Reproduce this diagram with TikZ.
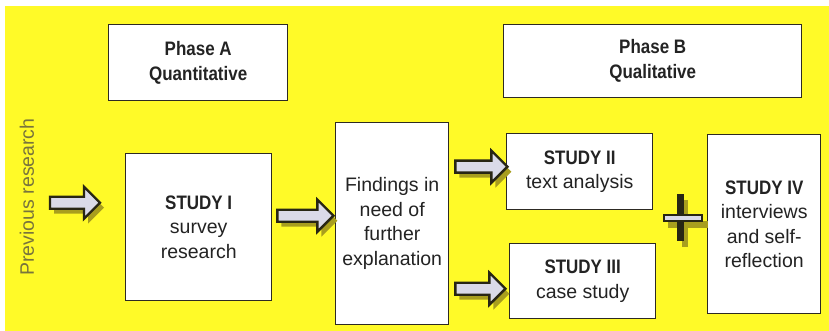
\documentclass[tikz,border=0pt]{standalone}
\usepackage{fontspec}
\setmainfont{Liberation Sans}
\newfontfamily\nbold[FakeStretch=0.87,UprightFont={* Bold}]{Liberation Sans}
\usetikzlibrary{calc}
\definecolor{bgy}{RGB}{255,250,40}
\definecolor{boxline}{RGB}{45,42,35}
\definecolor{txt}{RGB}{35,35,35}
\definecolor{arrfill}{RGB}{218,218,232}
\definecolor{arrline}{RGB}{40,38,20}
\definecolor{shad}{RGB}{168,158,30}
\definecolor{prevc}{RGB}{120,116,60}
\tikzset{
  box/.style={draw=boxline, line width=1.4pt, fill=white, align=center,
    anchor=north west, inner sep=0pt, text=txt,
    font=\fontsize{19.5}{24.5}\selectfont},
  hd/.style={font=\nbold\fontsize{19.5}{25}\selectfont},
  arrbody/.style={fill=arrfill, draw=arrline, line width=2.4pt, line join=miter},
  arrshadow/.style={fill=shad},
  pics/barrow/.style={code={
    \fill[arrshadow, shift={(4,5)}] (0,-6) -- ({#1-16},-6) -- ({#1-16},-16) -- (#1,0)
        -- ({#1-16},16) -- ({#1-16},6) -- (0,6) -- cycle;
    \path[arrbody] (0,-6) -- ({#1-16},-6) -- ({#1-16},-16) -- (#1,0)
        -- ({#1-16},16) -- ({#1-16},6) -- (0,6) -- cycle;
  }},
  pics/plussign/.style={code={
    \fill[arrshadow, shift={(5,6)}] (-3,-24) rectangle (3,23);
    \fill[arrshadow, shift={(5,6)}] (-17,-3) rectangle (23,4);
    \fill[arrline] (-3.5,-24) rectangle (3.5,23);
    \path[fill=arrfill, draw=arrline, line width=2.4pt] (-16,-2.5) rectangle (22,3.5);
  }}
}
\newcommand{\sthd}[1]{{\nbold\fontsize{19.5}{24.5}\selectfont #1}}
\begin{document}
\begin{tikzpicture}[x=1pt,y=-1pt]
\useasboundingbox (0,0) rectangle (829,331);
\fill[white] (0,0) rectangle (829,331);
\fill[bgy] (5,6) rectangle (829,331);

\node[box, minimum width=179pt, minimum height=76pt, hd] (phA) at (108,24) {Phase A\\Quantitative};
\node[box, minimum width=298pt, minimum height=73pt, hd] (phB) at (503,24) {Phase B\\Qualitative};

\node[box, minimum width=146pt, minimum height=147pt] (s1) at (125,153)
  {\sthd{STUDY I}\\survey\\research};
\node[box, minimum width=113pt, minimum height=202pt] (find) at (335,122)
  {Findings in\\need of\\further\\explanation};
\node[box, minimum width=146pt, minimum height=76pt] (s2) at (506,133)
  {\sthd{STUDY II}\\text analysis};
\node[box, minimum width=146pt, minimum height=75pt] (s3) at (509,243)
  {\sthd{STUDY III}\\case study};
\node[box, minimum width=113pt, minimum height=179pt] (s4) at (707,134)
  {\sthd{STUDY IV}\\interviews\\and self-\\reflection};

\node[rotate=90, text=prevc, font=\fontsize{19.5}{24}\selectfont, inner sep=0pt] (prev) at (27,197) {Previous research};

\pic at ($(s1.west)+(-75,-24.5)$) {barrow=50};
\pic at ($(s1.east)+(5,-11.5)$) {barrow=56};
\pic at ($(find.east |- s2.west)+(6,-5)$) {barrow=52};
\pic at ($(find.east |- s3.west)+(6,7.5)$) {barrow=50};
\pic at ($(s4.west)+(-27,-6.5)$) {plussign};
\end{tikzpicture}
\end{document}
